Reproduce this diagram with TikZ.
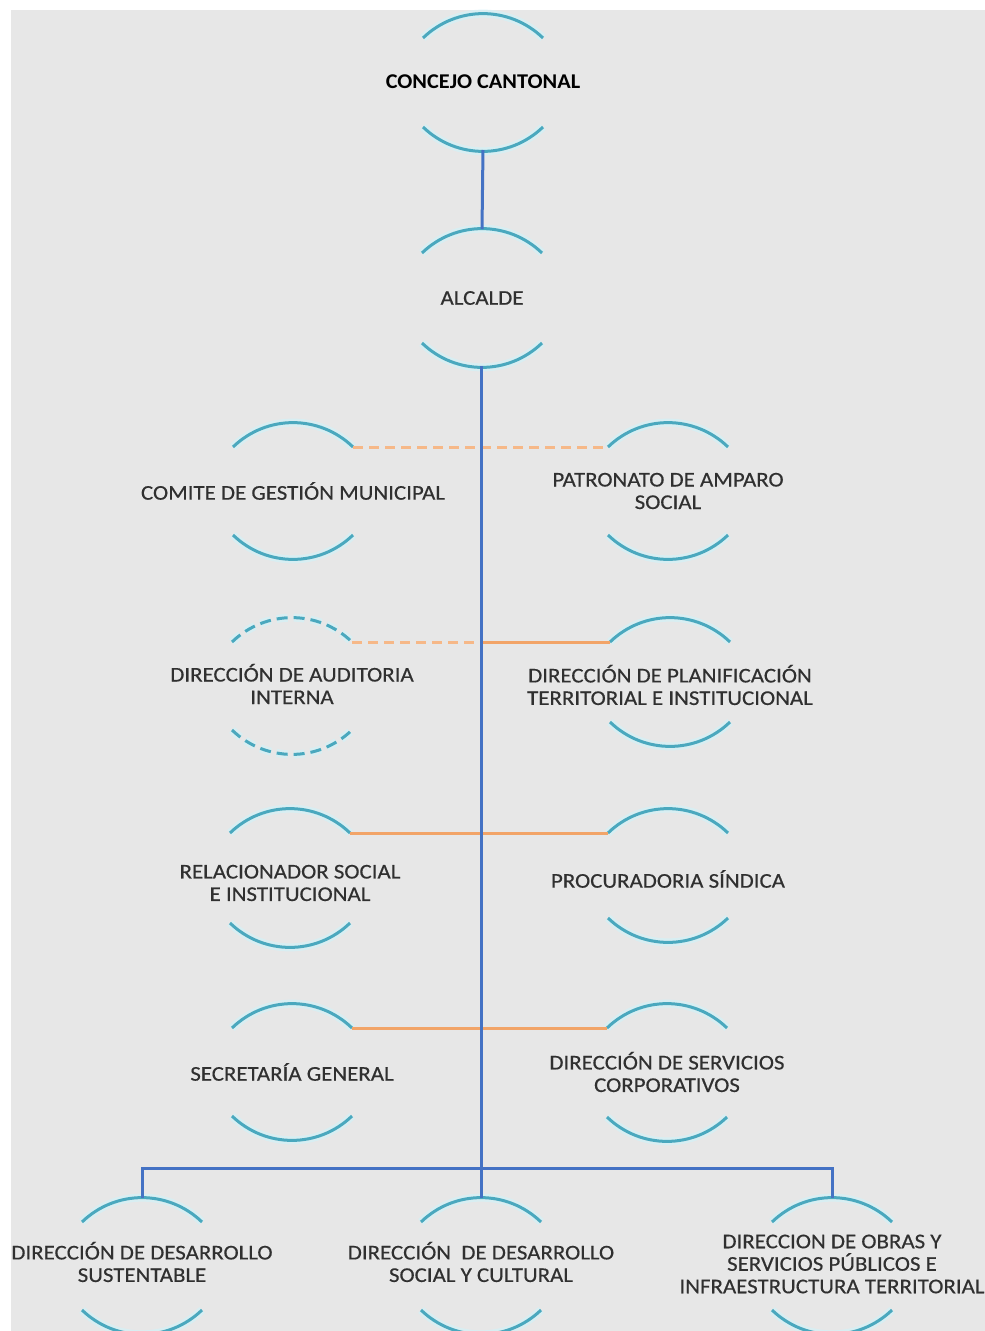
\documentclass[tikz,border=0pt]{standalone}
\usepackage{fontspec}
\setmainfont[FakeStretch=1.09,FakeBold=0.4]{Carlito}
\newfontfamily\boldfam[FakeStretch=1.06]{Carlito}
\definecolor{bggray}{HTML}{E7E7E7}
\definecolor{arcteal}{HTML}{4AA8BE}
\definecolor{arcglow}{HTML}{D2F2F8}
\definecolor{trunkblue}{HTML}{4472C4}
\definecolor{linkorange}{HTML}{F2A468}
\definecolor{linkorangelight}{HTML}{F6B888}
\definecolor{txt}{HTML}{303030}
\tikzset{
  arcline/.style={arcteal, line width=3pt},
  glowline/.style={arcglow, line width=8pt, opacity=0.7},
  lbl/.style={align=center, text=txt, font=\fontsize{21}{22.5}\selectfont, inner sep=0pt},
  trunk/.style={trunkblue, line width=3pt},
  link/.style={linkorange, line width=3pt},
  linkdash/.style={linkorangelight, line width=3pt, dash pattern=on 10pt off 6pt},
  arcdash/.style={dash pattern=on 11pt off 6pt},
}
% #1 arc style, #2 name, #3 cx, #4 top ends y, #5 bottom ends y, #6 text y, #7 text
\newcommand\ounit[7][]{%
  \coordinate (#2-tl) at (#3-60,#4);
  \coordinate (#2-tr) at (#3+60,#4);
  \coordinate (#2-bl) at (#3-60,#5);
  \coordinate (#2-br) at (#3+60,#5);
  \coordinate (#2-top) at (#3,#4-24);
  \coordinate (#2-bot) at (#3,#5+23);
  \draw[glowline,#1] (#2-tl) to[bend left=44] (#2-tr);
  \draw[glowline,#1] (#2-bl) to[bend right=44] (#2-br);
  \draw[arcline,#1] (#2-tl) to[bend left=44] (#2-tr);
  \draw[arcline,#1] (#2-bl) to[bend right=44] (#2-br);
  \node[lbl] (#2) at (#3,#6) {#7};
}
\begin{document}
\begin{tikzpicture}[x=1pt,y=-1pt]
\useasboundingbox (0,0) rectangle (985,1331);
\fill[white] (0,0) rectangle (985,1331);
\fill[bggray] (11,10) rectangle (985,1331);

\ounit{con}{483}{38}{127}{82}{\boldfam\bfseries\color{black}CONCEJO CANTONAL}
\ounit{alc}{482}{253}{343}{298}{ALCALDE}
\ounit{com}{293}{447}{535}{491}{COMITE DE GESTIÓN MUNICIPAL}
\ounit{pat}{668}{447}{535}{491}{PATRONATO DE AMPARO\\SOCIAL}
\ounit[arcdash]{aud}{292}{642}{730}{684}{DIRECCIÓN DE AUDITORIA\\INTERNA}
\ounit{pla}{670}{642}{722}{685}{DIRECCIÓN DE PLANIFICACIÓN\\TERRITORIAL E INSTITUCIONAL}
\ounit{rel}{290}{833}{923}{883}{RELACIONADOR SOCIAL\\E INSTITUCIONAL}
\ounit{pro}{668}{833}{918}{879}{PROCURADORIA SÍNDICA}
\ounit{sec}{292}{1028}{1116}{1072}{SECRETARÍA GENERAL}
\ounit{ser}{667}{1028}{1117}{1072}{DIRECCIÓN DE SERVICIOS\\CORPORATIVOS}
\ounit{ds}{142}{1222}{1310}{1262}{DIRECCIÓN DE DESARROLLO\\SUSTENTABLE}
\ounit{dc}{481}{1222}{1310}{1262}{DIRECCIÓN\ \ DE DESARROLLO\\SOCIAL Y CULTURAL}
\ounit{do}{832}{1222}{1310}{1264}{DIRECCION DE OBRAS Y\\SERVICIOS PÚBLICOS E\\INFRAESTRUCTURA TERRITORIAL}

% orange links
\draw[linkdash] (com-tr) -- (pat-tl);
\coordinate (hub) at (481,1168);
\draw[linkdash] (aud-tr) -- (aud-tr -| hub);
\draw[link] (aud-tr -| hub) -- (pla-tl);
\draw[link] (rel-tr) -- (pro-tl);
\draw[link] (sec-tr) -- (ser-tl);

% blue trunk
\draw[trunk] (con-bot) -- (alc-top);
\draw[trunk] (alc-bot -| hub) -- (hub);
\draw[trunk] (ds-top) -- (ds-top |- hub) -- (do-top |- hub) -- (do-top);
\draw[trunk] (hub) -- (dc-top);
\end{tikzpicture}
\end{document}
